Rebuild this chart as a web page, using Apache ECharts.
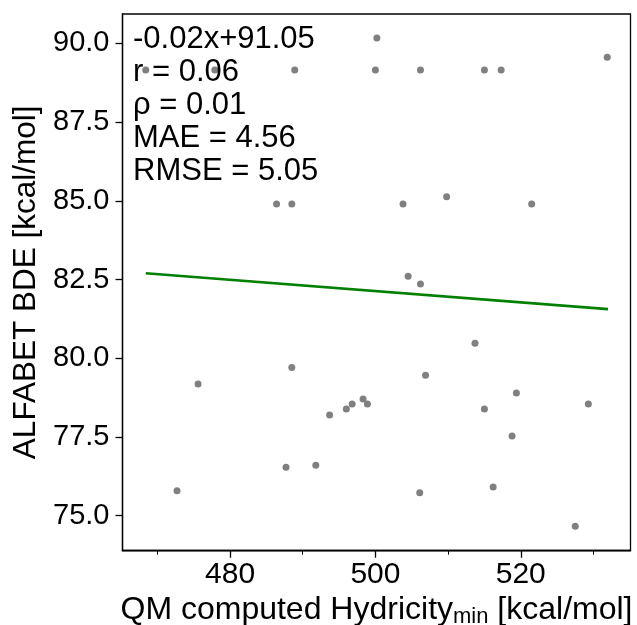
<!DOCTYPE html>
<html>
<head>
<meta charset="utf-8">
<style>
  html, body { margin: 0; padding: 0; background: #fff; }
  #chart { width: 637px; height: 625px; }
</style>
<script src="https://cdn.jsdelivr.net/npm/echarts@6/dist/echarts.min.js"></script>
</head>
<body>
<div id="chart"></div>
<script>
// QM hydricity (kcal/mol) against ALFABET BDE (kcal/mol)
const hydricity = [
  468.4, 477.9, 488.9, 500.0, 506.2, 515.0, 517.3, 500.2, 531.9,
  486.4, 488.5, 503.8, 521.5, 509.8,
  504.5, 506.2,
  513.7,
  488.5, 506.9, 475.6,
  519.4, 498.3, 496.8, 498.9, 529.3, 496.0, 515.0, 493.7, 518.8,
  487.7, 491.8, 516.2, 472.7, 506.1, 527.5
];
const bde = [
  89.15, 89.15, 89.15, 89.15, 89.15, 89.15, 89.15, 90.17, 89.56,
  84.90, 84.90, 84.90, 84.90, 85.13,
  82.60, 82.36,
  80.48,
  79.71, 79.46, 79.18,
  78.90, 78.71, 78.55, 78.55, 78.55, 78.39, 78.39, 78.20, 77.53,
  76.54, 76.60, 75.91, 75.79, 75.73, 74.67
];

// least-squares fit line endpoints
const fitX = [468.4, 532.0];
const fitY = [82.70, 81.56];

const statsLines = ['-0.02x+91.05', 'r = 0.06', 'ρ = 0.01', 'MAE = 4.56', 'RMSE = 5.05'];

const xMajor = [480, 500, 520];
const xMinor = [470, 490, 510, 530];
const yTicks = [75.0, 77.5, 80.0, 82.5, 85.0, 87.5, 90.0];

const FONT = 'Liberation Sans, Arial, Helvetica, sans-serif';

const chart = echarts.init(document.getElementById('chart'), null, { renderer: 'canvas' });

const xCommon = {
  type: 'value', min: 465.2, max: 535.1,
  splitLine: { show: false },
  axisLine: { show: true, onZero: false, lineStyle: { color: '#000', width: 1.3 } }
};

chart.setOption({
  animation: false,
  backgroundColor: '#fff',
  title: {
    text: statsLines.join('\n'),
    left: 133, top: 23, padding: 0,
    textStyle: { fontFamily: FONT, fontSize: 31, fontWeight: 'normal', color: '#000', lineHeight: 33 }
  },
  grid: {
    left: 122.5, right: 6.5, top: 14, bottom: 74.3,
    outerBoundsMode: 'none', containLabel: false,
    show: true, borderColor: '#000', borderWidth: 1.3, backgroundColor: 'transparent'
  },
  xAxis: [
    Object.assign({}, xCommon, {
      name: '{a|QM computed Hydricity}{s|min}{a| [kcal/mol]}',
      nameLocation: 'middle', nameGap: 38,
      nameTextStyle: {
        rich: {
          a: { fontFamily: FONT, fontSize: 32, color: '#000', lineHeight: 34 },
          s: { fontFamily: FONT, fontSize: 22, color: '#000', lineHeight: 14, verticalAlign: 'bottom' }
        }
      },
      axisTick: { show: true, length: 7, customValues: xMajor, lineStyle: { color: '#000', width: 1.3 } },
      axisLabel: {
        customValues: xMajor, margin: 9,
        fontFamily: FONT, fontSize: 30, color: '#000'
      }
    }),
    Object.assign({}, xCommon, {
      position: 'bottom',
      axisTick: { show: true, length: 4, customValues: xMinor, lineStyle: { color: '#000', width: 1 } },
      axisLabel: { show: false }
    })
  ],
  yAxis: {
    type: 'value', min: 73.89, max: 90.93,
    splitLine: { show: false },
    name: 'ALFABET BDE [kcal/mol]',
    nameLocation: 'middle', nameGap: 80, nameRotate: 90,
    nameTextStyle: { fontFamily: FONT, fontSize: 31.5, color: '#000' },
    axisLine: { show: true, onZero: false, lineStyle: { color: '#000', width: 1.3 } },
    axisTick: { show: true, length: 7, customValues: yTicks, lineStyle: { color: '#000', width: 1.3 } },
    axisLabel: {
      customValues: yTicks, margin: 13,
      fontFamily: FONT, fontSize: 29, color: '#000',
      formatter: v => Number(v).toFixed(1)
    }
  },
  series: [
    {
      type: 'scatter',
      data: hydricity.map((x, i) => [x, bde[i]]),
      symbol: 'circle', symbolSize: 7,
      itemStyle: { color: '#808080', opacity: 1 },
      z: 3
    },
    {
      type: 'line',
      data: fitX.map((x, i) => [x, fitY[i]]),
      showSymbol: false, symbol: 'none',
      lineStyle: { color: '#008000', width: 2.6 },
      z: 4
    }
  ]
});
</script>
</body>
</html>
